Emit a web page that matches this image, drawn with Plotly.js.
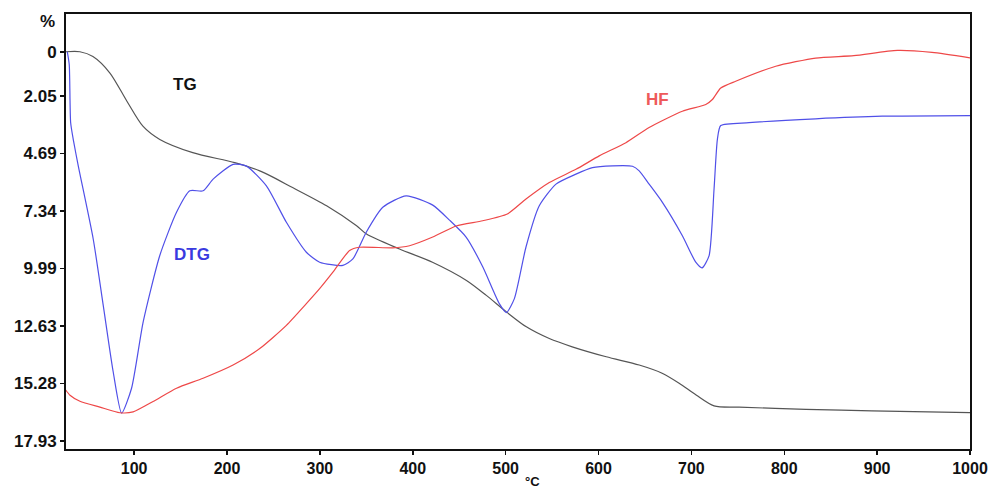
<!DOCTYPE html>
<html>
<head>
<meta charset="utf-8">
<script src="https://cdn.plot.ly/plotly-3.0.1.min.js"></script>
<style>html,body{margin:0;padding:0;background:#fff;}#chart{width:993px;height:489px;}</style>
</head>
<body>
<div id="chart"></div>
<script>
// Temperature (°C) and values on the % axis
const tgT = [26.6, 41.6, 55.6, 73.9, 92.2, 109.4, 127.6, 163.1, 208.3, 235.2, 270.6, 307.2, 339.5, 350.2, 385.7, 421.2, 457.8, 479.2, 500.8, 522.3, 547.0, 571.7, 608.3, 643.8, 668.5, 686.8, 705.1, 724.4, 751.3, 823.3, 894.3, 1000];
const tgV = [0, 0, 0.22, 0.98, 2.28, 3.43, 4.04, 4.65, 5.11, 5.49, 6.26, 7.10, 8.02, 8.40, 9.09, 9.70, 10.54, 11.23, 11.99, 12.68, 13.22, 13.60, 14.06, 14.44, 14.82, 15.28, 15.82, 16.32, 16.38, 16.48, 16.55, 16.63];

const dtgT = [28.0, 30.1, 31.6, 34.4, 39.8, 55.9, 66.7, 77.4, 86.5, 97.2, 109.7, 127.6, 145.6, 159.9, 174.2, 185.0, 206.5, 220.9, 242.4, 263.9, 285.4, 299.7, 324.7, 335.5, 349.9, 367.7, 392.9, 421.5, 439.5, 457.4, 475.3, 493.2, 500.8, 509.4, 521.9, 536.2, 554.2, 575.7, 593.5, 615.1, 636.6, 643.8, 654.5, 668.8, 690.3, 704.7, 711.5, 719.0, 724.4, 728.0, 731.6, 762.0, 833.8, 905.4, 1000];
const dtgV = [0, 0.6, 3.26, 4.04, 5.26, 8.63, 11.69, 14.75, 16.66, 15.51, 12.45, 9.39, 7.40, 6.41, 6.41, 5.87, 5.19, 5.27, 6.18, 7.86, 9.24, 9.70, 9.85, 9.55, 8.32, 7.17, 6.64, 7.07, 7.76, 8.54, 9.91, 11.61, 12.02, 11.38, 9.00, 7.10, 6.10, 5.64, 5.34, 5.26, 5.28, 5.49, 6.10, 6.94, 8.48, 9.70, 9.96, 9.41, 6.33, 4.04, 3.40, 3.27, 3.09, 2.97, 2.94];

const hfT = [26.3, 30.9, 41.6, 63.1, 84.6, 98.9, 120.4, 145.6, 174.2, 206.5, 235.2, 263.9, 285.4, 299.7, 314.0, 332.0, 342.7, 378.5, 396.5, 421.5, 446.7, 475.3, 501.8, 521.9, 547.0, 575.7, 600.8, 629.5, 654.5, 690.3, 715.5, 722.6, 731.6, 747.7, 790.8, 833.8, 875.0, 921.8, 959.1, 1000];
const hfV = [15.59, 15.83, 16.11, 16.38, 16.64, 16.60, 16.12, 15.51, 15.05, 14.44, 13.68, 12.61, 11.61, 10.92, 10.16, 9.16, 9.01, 9.04, 8.94, 8.54, 8.03, 7.79, 7.48, 6.79, 6.03, 5.42, 4.80, 4.19, 3.49, 2.74, 2.43, 2.20, 1.67, 1.36, 0.67, 0.29, 0.18, -0.06, 0.03, 0.28];

const yTicks = [0, 2.05, 4.69, 7.34, 9.99, 12.63, 15.28, 17.93];
const yTickText = ['0', '2.05', '4.69', '7.34', '9.99', '12.63', '15.28', '17.93'];
const xTicks = [100, 200, 300, 400, 500, 600, 700, 800, 900, 1000];

const fam = 'Liberation Sans, Arial, sans-serif';
const font = {family: fam, size: 17, color: '#111', weight: 'bold'};

const traces = [
  {x: tgT, y: tgV, name: 'TG', mode: 'lines', line: {color: '#555555', width: 1.2, shape: 'spline', smoothing: 0.8}},
  {x: dtgT, y: dtgV, name: 'DTG', mode: 'lines', line: {color: '#5050e8', width: 1.2, shape: 'spline', smoothing: 0.6}},
  {x: hfT, y: hfV, name: 'HF', mode: 'lines', line: {color: '#ee4848', width: 1.2, shape: 'spline', smoothing: 0.6}}
];

const layout = {
  width: 993, height: 489,
  margin: {l: 66, r: 23, t: 14, b: 40},
  paper_bgcolor: '#fff', plot_bgcolor: '#fff',
  showlegend: false,
  xaxis: {range: [26.6, 1000], tickvals: xTicks, ticks: 'outside', ticklen: 4, tickwidth: 1.5, tickcolor: '#111',
    showline: true, linecolor: '#111', linewidth: 2, mirror: true, showgrid: false, zeroline: false,
    tickfont: {family: fam, size: 16, color: '#111', weight: 'bold'}},
  yaxis: {range: [18.31, -1.74], tickvals: yTicks, ticktext: yTickText, ticks: 'outside', ticklen: 4, tickwidth: 1.5, tickcolor: '#111',
    showline: true, linecolor: '#111', linewidth: 2, mirror: true, showgrid: false, zeroline: false, tickfont: font},
  annotations: [
    {x: 155, y: 1.5, xref: 'x', yref: 'y', text: 'TG', showarrow: false, font: {family: fam, size: 17, color: '#111', weight: 'bold'}},
    {x: 162, y: 9.35, xref: 'x', yref: 'y', text: 'DTG', showarrow: false, font: {family: fam, size: 17, color: '#3a3ae0', weight: 'bold'}},
    {x: 663, y: 2.2, xref: 'x', yref: 'y', text: 'HF', showarrow: false, font: {family: fam, size: 17, color: '#ee5a5a', weight: 'bold'}},
    {x: -0.021, y: 0.982, xref: 'paper', yref: 'paper', text: '%', showarrow: false, xanchor: 'center', yanchor: 'middle', font: font},
    {x: 519, y: -0.0736, xref: 'x', yref: 'paper', text: '°C', showarrow: false, xanchor: 'left', yanchor: 'middle', font: {family: fam, size: 13, color: '#111', weight: 'bold'}}
  ]
};

Plotly.newPlot('chart', traces, layout, {displayModeBar: false, staticPlot: true});
</script>
</body>
</html>
